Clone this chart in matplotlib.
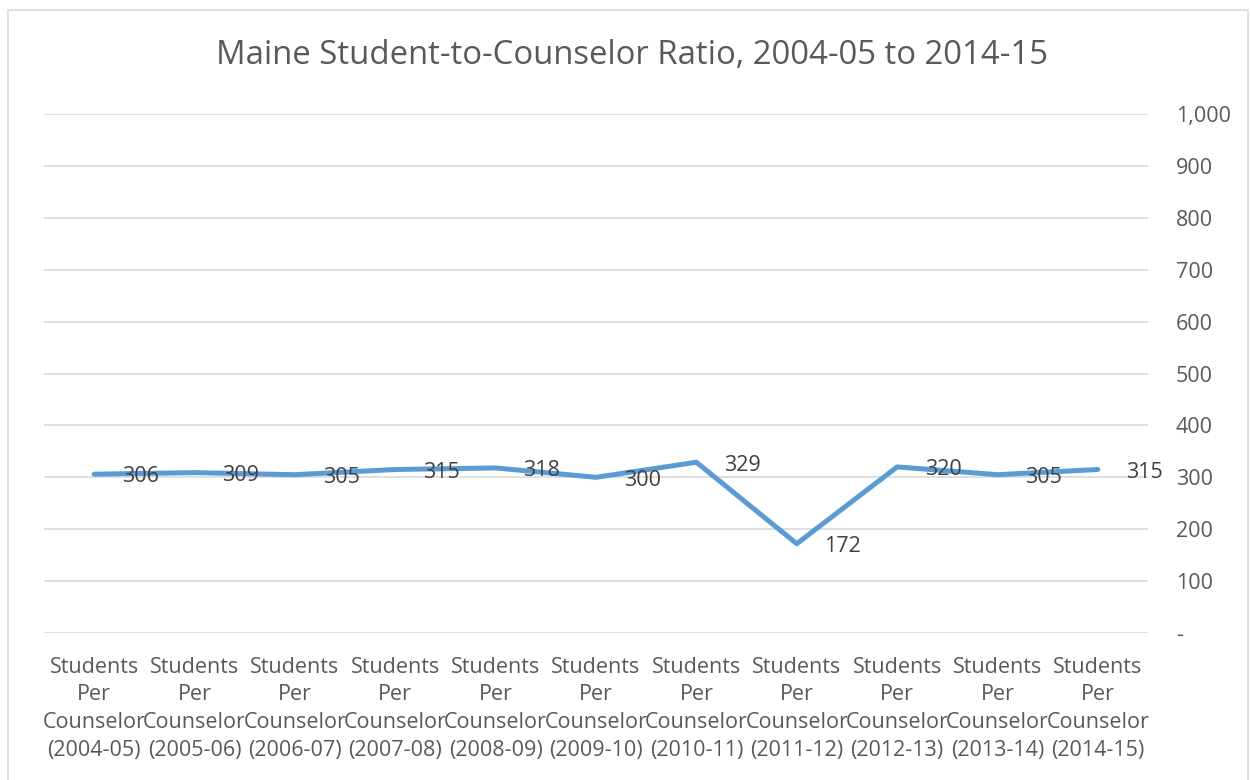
import matplotlib.pyplot as plt
from matplotlib.patches import Rectangle
from matplotlib.ticker import FuncFormatter

plt.rcParams['font.family'] = ['Open Sans', 'DejaVu Sans']

years = ["2004-05", "2005-06", "2006-07", "2007-08", "2008-09", "2009-10",
         "2010-11", "2011-12", "2012-13", "2013-14", "2014-15"]
ratio = [306, 309, 305, 315, 318, 300, 329, 172, 320, 305, 315]
labels = ["Students\nPer\nCounselor\n(%s)" % y for y in years]

fig = plt.figure(figsize=(12.51, 7.80), dpi=100)
ax = fig.add_axes([0.0352, 0.1885, 0.8825, 0.6653])

# chart border like the excel chart area
fig.patches.append(Rectangle((8 / 1251, -0.01), 1240 / 1251, 1.0036 - 5 / 780,
                             transform=fig.transFigure, fill=False,
                             edgecolor="#d9d9d9", linewidth=1.2))

x = list(range(len(ratio)))
ax.plot(x, ratio, color="#5b9bd5", linewidth=3.6, solid_capstyle="round",
        solid_joinstyle="round", zorder=3)

for i, v in zip(x, ratio):
    ax.annotate(str(v), (i, v), xytext=(20, -2), textcoords="offset points",
                ha="left", va="center", fontsize=15.5, color="#404040", zorder=4)

ax.set_xlim(-0.5, 10.5)
ax.set_ylim(0, 1000)
ax.set_yticks(range(0, 1001, 100))
ax.yaxis.set_major_formatter(FuncFormatter(lambda v, p: "-" if v == 0 else f"{int(v):,}"))
ax.yaxis.tick_right()
ax.grid(axis="y", color="#d9d9d9", linewidth=1.2)
ax.set_axisbelow(True)
for s in ax.spines.values():
    s.set_visible(False)
ax.tick_params(axis="y", length=0, pad=20, labelsize=15.5, labelcolor="#595959")
ax.set_xticks(x)
ax.set_xticklabels(labels, fontsize=15.5, color="#595959", linespacing=1.43)
ax.tick_params(axis="x", length=0, pad=17)
for t in ax.get_yticklabels():
    t.set_horizontalalignment("left")

fig.text(0.5 * (217 + 1047) / 1251, 1 - 55 / 780,
         "Maine Student-to-Counselor Ratio, 2004-05 to 2014-15",
         ha="center", va="center", fontsize=23.7, color="#595959")

fig.savefig("out.png", dpi=100)
